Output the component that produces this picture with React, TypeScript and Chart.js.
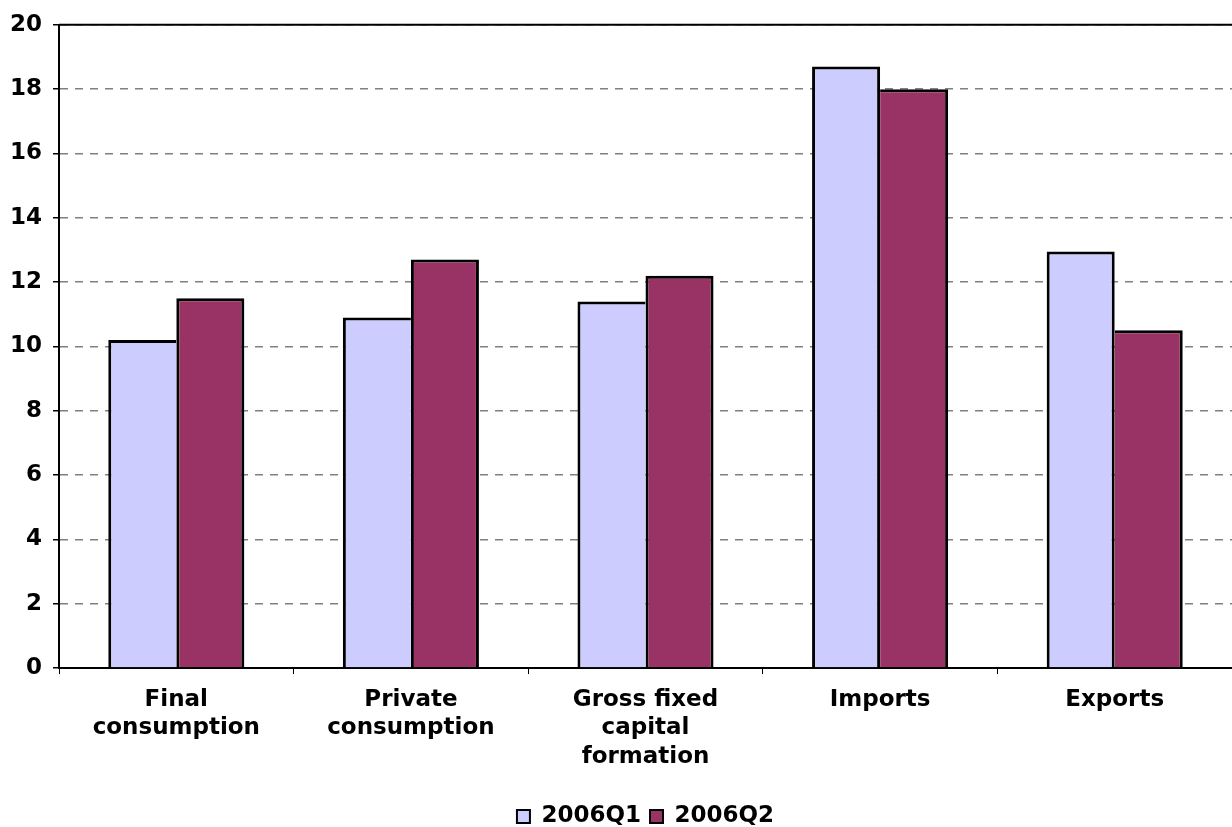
import React, { useEffect, useRef } from "react";
import { Chart, registerables } from "chart.js";

Chart.register(...registerables);

const categories: (string | string[])[] = [
  ["Final", "consumption"],
  ["Private", "consumption"],
  ["Gross fixed", "capital", "formation"],
  "Imports",
  "Exports",
];
const seriesQ1 = [10.2, 10.9, 11.4, 18.7, 12.95];
const seriesQ2 = [11.5, 12.7, 12.2, 18.0, 10.5];
const seriesNames = ["2006Q1", "2006Q2"];

const FONT = "'DejaVu Sans', Verdana, sans-serif";
const BW = 3;

const topBorderPlugin = {
  id: "topBorder",
  afterDraw(chart: any) {
    const { ctx, chartArea } = chart;
    ctx.save();
    ctx.strokeStyle = "#000000";
    ctx.lineWidth = 2;
    ctx.beginPath();
    ctx.moveTo(chartArea.left, chartArea.top);
    ctx.lineTo(chartArea.right, chartArea.top);
    ctx.stroke();
    ctx.restore();
  },
};

export default function App() {
  const ref = useRef<HTMLCanvasElement | null>(null);
  useEffect(() => {
    if (!ref.current) return;
    const chart = new Chart(ref.current, {
      type: "bar",
      data: {
        labels: categories,
        datasets: [
          {
            label: seriesNames[0],
            data: seriesQ1,
            backgroundColor: "#CCCCFF",
            borderColor: "#000000",
            borderWidth: (c: any) => ({
              top: BW,
              left: BW,
              right: seriesQ1[c.dataIndex] >= seriesQ2[c.dataIndex] ? BW : 0,
              bottom: 0,
            }),
            barPercentage: 1,
            categoryPercentage: 0.58,
          },
          {
            label: seriesNames[1],
            data: seriesQ2,
            backgroundColor: "#993366",
            borderColor: "#000000",
            borderWidth: (c: any) => ({
              top: BW,
              left: seriesQ2[c.dataIndex] > seriesQ1[c.dataIndex] ? BW : 0,
              right: BW,
              bottom: 0,
            }),
            barPercentage: 1,
            categoryPercentage: 0.58,
          },
        ],
      },
      options: {
        animation: false,
        responsive: true,
        maintainAspectRatio: false,
        layout: { padding: { left: -1, right: 0, top: 10, bottom: 0 } },
        plugins: {
          tooltip: { enabled: false },
          legend: {
            position: "bottom",
            fullSize: false,
            title: {
              display: true,
              text: " ",
              font: { size: 1, lineHeight: 1 },
              padding: { top: 0, bottom: 12 },
            },
            labels: {
              color: "#000000",
              font: { family: FONT, size: 23, weight: "bold" },
              boxWidth: 13,
              boxHeight: 13,
              padding: 9,
              generateLabels: (chart: any) =>
                Chart.defaults.plugins.legend.labels.generateLabels(chart).map((l: any) => ({
                  ...l,
                  lineWidth: 2,
                  strokeStyle: "#000000",
                })),
            },
          },
        },
        scales: {
          x: {
            grid: {
              display: true,
              drawOnChartArea: false,
              drawTicks: true,
              tickLength: 6,
              color: "#000000",
              offset: true,
            },
            border: { display: true, color: "#000000", width: 2 },
            ticks: {
              color: "#000000",
              font: { family: FONT, size: 23, weight: "bold", lineHeight: 1.26 },
              padding: 11,
              maxRotation: 0,
              autoSkip: false,
            },
          },
          y: {
            min: 0,
            max: 20,
            ticks: {
              stepSize: 2,
              color: "#000000",
              font: { family: FONT, size: 23, weight: "bold" },
              padding: 11,
            },
            grid: {
              color: "#808080",
              lineWidth: 1.5,
              drawTicks: true,
              tickLength: 6,
              tickColor: "#000000",
              tickWidth: 1.5,
              tickBorderDash: [],
            },
            border: { display: true, color: "#000000", width: 2, dash: [8, 7] },
          },
        },
      },
      plugins: [topBorderPlugin],
    });
    return () => chart.destroy();
  }, []);
  return (
    <div style={{ position: "fixed", left: 0, top: 0, width: 1232, height: 838, background: "#fff" }}>
      <canvas ref={ref} />
    </div>
  );
}
